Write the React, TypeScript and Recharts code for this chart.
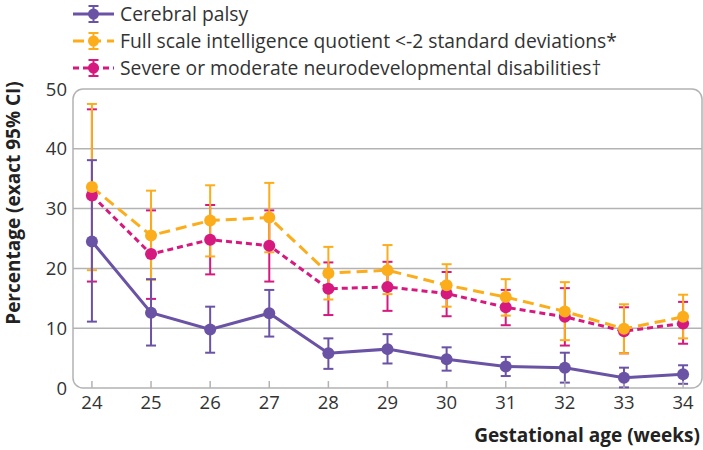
import React from 'react'
import { CartesianGrid, ErrorBar, Line, LineChart, ReferenceArea, Rectangle, XAxis, YAxis } from 'recharts'

const WEEKS = [24, 25, 26, 27, 28, 29, 30, 31, 32, 33, 34]

const CP = [24.5, 12.6, 9.8, 12.5, 5.8, 6.5, 4.8, 3.6, 3.4, 1.7, 2.3]
const CP_LO = [11.1, 7.1, 5.9, 8.6, 3.2, 4.1, 2.9, 2.0, 0.9, 0.1, 0.7]
const CP_HI = [38.1, 18.2, 13.6, 16.4, 8.3, 9.0, 6.8, 5.2, 5.9, 3.4, 3.8]

const FSIQ = [33.6, 25.5, 28.0, 28.5, 19.2, 19.7, 17.2, 15.2, 12.8, 9.9, 11.9]
const FSIQ_LO = [19.7, 18.1, 22.0, 22.7, 14.8, 15.7, 13.6, 12.1, 8.0, 5.8, 8.3]
const FSIQ_HI = [47.5, 33.0, 33.9, 34.3, 23.6, 23.9, 20.7, 18.2, 17.7, 14.0, 15.6]

const NDD = [32.2, 22.4, 24.8, 23.8, 16.6, 16.9, 15.8, 13.5, 11.9, 9.5, 10.8]
const NDD_LO = [17.8, 14.9, 19.0, 17.8, 12.2, 12.9, 12.0, 10.5, 7.1, 5.8, 7.4]
const NDD_HI = [46.6, 29.7, 30.6, 29.7, 21.0, 21.1, 19.4, 16.4, 16.7, 13.5, 14.4]

const Y_TICKS = [0, 10, 20, 30, 40, 50]

const FONT = '"Open Sans", Lato, sans-serif'
const GRID = '#b3b3b3'
const TEXT = '#333'

const SERIES = [
  { key: 'cp', name: 'Cerebral palsy', color: '#6a52a5', dash: undefined as string | undefined },
  { key: 'fsiq', name: 'Full scale intelligence quotient <-2 standard deviations*', color: '#fbad1c', dash: '11 6' },
  { key: 'ndd', name: 'Severe or moderate neurodevelopmental disabilities\u2020', color: '#d6197f', dash: '6 4' },
]

const data = WEEKS.map((w, i) => ({
  week: w,
  cp: CP[i],
  cpErr: [CP[i] - CP_LO[i], CP_HI[i] - CP[i]],
  fsiq: FSIQ[i],
  fsiqErr: [FSIQ[i] - FSIQ_LO[i], FSIQ_HI[i] - FSIQ[i]],
  ndd: NDD[i],
  nddErr: [NDD[i] - NDD_LO[i], NDD_HI[i] - NDD[i]],
}))

function LegendIcon({ color, dash }: { color: string; dash?: string }) {
  return (
    <svg width={44} height={22} style={{ display: 'block' }}>
      <line x1={1} y1={11} x2={42} y2={11} stroke={color} strokeWidth={3} strokeDasharray={dash} />
      <line x1={21.5} y1={3} x2={21.5} y2={19} stroke={color} strokeWidth={2} />
      <line x1={16.5} y1={3} x2={26.5} y2={3} stroke={color} strokeWidth={2} />
      <line x1={16.5} y1={19} x2={26.5} y2={19} stroke={color} strokeWidth={2} />
      <circle cx={21.5} cy={11} r={5.5} fill={color} />
    </svg>
  )
}

function PlotBox(props: any) {
  return <Rectangle {...props} fill="none" stroke={GRID} strokeWidth={1.5} radius={10} />
}

export default function App() {
  const order = [SERIES[2], SERIES[1], SERIES[0]]
  return (
    <div style={{ position: 'relative', width: 703, height: 450, fontFamily: FONT, background: '#fff' }}>
      <style>{'body{margin:0}'}</style>
      <LineChart width={703} height={450} data={data} margin={{ top: 89, right: 1, bottom: 0, left: 0 }}>
        <CartesianGrid horizontal vertical={false} horizontalValues={[10, 20, 30, 40]} stroke={GRID} strokeWidth={1.5} />
        <ReferenceArea x1={23.68} x2={34.32} y1={0} y2={50} shape={PlotBox} ifOverflow="visible" />
        <XAxis
          type="number"
          dataKey="week"
          domain={[23.68, 34.32]}
          ticks={WEEKS}
          allowDataOverflow
          height={62}
          axisLine={false}
          tickSize={-7}
          tickMargin={15}
          tickLine={{ stroke: GRID, strokeWidth: 1.5 }}
          tick={{ fill: TEXT, fontSize: 18.5, fontFamily: FONT }}
          label={{
            content: (p: any) => (
              <text x={p.viewBox.x + p.viewBox.width - 2} y={442} textAnchor="end" fontSize={19} fontWeight={700} fill="#222" fontFamily={FONT}>
                Gestational age (weeks)
              </text>
            ),
          }}
        />
        <YAxis
          type="number"
          domain={[0, 50]}
          ticks={Y_TICKS}
          width={73}
          axisLine={false}
          tickLine={false}
          tickSize={0}
          tickMargin={6}
          tick={{ fill: TEXT, fontSize: 18.5, fontFamily: FONT }}
          label={{
            content: () => (
              <text x={20} y={203} transform="rotate(-90 20 203)" textAnchor="middle" fontSize={19} fontWeight={700} fill="#222" fontFamily={FONT}>
                Percentage (exact 95% CI)
              </text>
            ),
          }}
        />
        {order.map((s) => (
          <Line
            key={s.key}
            type="linear"
            dataKey={s.key}
            stroke={s.color}
            strokeWidth={3}
            strokeDasharray={s.dash}
            dot={{ r: 6, fill: s.color, stroke: 'none' }}
            activeDot={false}
            isAnimationActive={false}
          >
            <ErrorBar dataKey={`${s.key}Err`} width={5} stroke={s.color} strokeWidth={2} direction="y" />
          </Line>
        ))}
      </LineChart>
      <div style={{ position: 'absolute', left: 72, top: 0 }}>
        {SERIES.map((s) => (
          <div key={s.key} style={{ display: 'flex', alignItems: 'center', height: 27 }}>
            <LegendIcon color={s.color} dash={s.dash} />
            <span style={{ marginLeft: 4, fontSize: 19.3, lineHeight: '22px', color: TEXT, whiteSpace: 'nowrap' }}>{s.name}</span>
          </div>
        ))}
      </div>
    </div>
  )
}
